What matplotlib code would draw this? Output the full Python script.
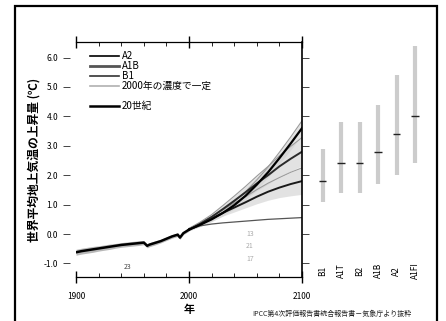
import numpy as np
import matplotlib
matplotlib.use("Agg")
import matplotlib.pyplot as plt
from matplotlib.lines import Line2D
from matplotlib.patches import Rectangle
from matplotlib.ticker import MultipleLocator

plt.rcParams['font.family'] = ['Noto Sans CJK JP', 'DejaVu Sans']

years_20c = [1900, 1905, 1910, 1915, 1920, 1925, 1930, 1935, 1940, 1945, 1950,
             1955, 1960, 1963, 1965, 1970, 1975, 1980, 1985, 1990, 1992, 1995, 2000]
temp_20c = [-0.62, -0.58, -0.55, -0.52, -0.49, -0.46, -0.43, -0.40, -0.37, -0.35, -0.33,
            -0.31, -0.29, -0.40, -0.36, -0.30, -0.24, -0.16, -0.08, -0.02, -0.12, 0.03, 0.15]
spread_20c = [0.10, 0.10, 0.10, 0.10, 0.09, 0.09, 0.09, 0.08, 0.08, 0.08, 0.08,
              0.08, 0.07, 0.07, 0.07, 0.07, 0.06, 0.06, 0.06, 0.06, 0.06, 0.05, 0.05]

# 21st century scenarios
years_21c = [2000, 2010, 2020, 2030, 2040, 2050, 2060, 2070, 2080, 2090, 2100]
a2 = [0.15, 0.32, 0.50, 0.72, 0.98, 1.30, 1.68, 2.10, 2.58, 3.08, 3.60]
a1b = [0.15, 0.35, 0.58, 0.85, 1.13, 1.42, 1.72, 2.00, 2.30, 2.56, 2.80]
b1 = [0.15, 0.32, 0.52, 0.72, 0.90, 1.08, 1.27, 1.44, 1.58, 1.70, 1.80]
commit = [0.15, 0.28, 0.34, 0.38, 0.41, 0.44, 0.47, 0.50, 0.52, 0.54, 0.56]
a2_spread = [0.04, 0.06, 0.08, 0.10, 0.12, 0.14, 0.16, 0.18, 0.20, 0.22, 0.25]
a1b_spread = [0.04, 0.06, 0.08, 0.12, 0.16, 0.20, 0.25, 0.30, 0.36, 0.42, 0.48]
b1_spread = [0.04, 0.06, 0.08, 0.11, 0.15, 0.19, 0.24, 0.29, 0.34, 0.40, 0.45]

# likely ranges at 2100 (right panel)
scen_names = ["B1", "A1T", "B2", "A1B", "A2", "A1FI"]
best_est = [1.8, 2.4, 2.4, 2.8, 3.4, 4.0]
range_lo = [1.1, 1.4, 1.4, 1.7, 2.0, 2.4]
range_hi = [2.9, 3.8, 3.8, 4.4, 5.4, 6.4]

legend_labels = ["A2", "A1B", "B1", "2000年の濃度で一定", "20世紀"]
model_counts = ["13", "21", "17"]

W, H = 446, 321
fig = plt.figure(figsize=(W / 100, H / 100), dpi=100)

# outer frame
fig.patches.append(Rectangle((15 / W, -0.05), 422 / W, 1.05 - 6 / H,
                             transform=fig.transFigure, fill=False,
                             edgecolor='black', linewidth=1.6))

ylim = (-1.46, 6.53)
ax = fig.add_axes([76 / W, (H - 277) / H, 226 / W, 235 / H])

# shaded ranges
ax.fill_between(years_20c, np.array(temp_20c) - spread_20c, np.array(temp_20c) + spread_20c,
                color='#b8b8b8', linewidth=0)
for vals, sp in [(a2, a2_spread), (a1b, a1b_spread), (b1, b1_spread)]:
    v = np.array(vals)
    s = np.array(sp)
    ax.fill_between(years_21c, v - s, v + s, color='#d0d0d0', alpha=0.6, linewidth=0)
    ax.plot(years_21c, v + s, color='#9a9a9a', linewidth=0.8)

ax.plot(years_21c, commit, color='#555555', linewidth=0.9)
ax.plot(years_21c, b1, color='#1a1a1a', linewidth=1.4)
ax.plot(years_21c, a1b, color='#2a2a2a', linewidth=1.4)
ax.plot(years_21c, a2, color='black', linewidth=1.6)
ax.plot(years_20c, temp_20c, color='black', linewidth=1.8)

ax.set_xlim(1900, 2100)
ax.set_ylim(*ylim)
ax.set_xticks([1900, 2000, 2100])
ax.xaxis.set_minor_locator(MultipleLocator(20))
ax.set_yticks(np.arange(-1, 7, 1))
ax.set_yticklabels([f"{v:.1f}" for v in np.arange(-1, 7, 1)])

ax.spines['left'].set_visible(False)
ax.spines['left'].set_position(('outward', 4))
for s in ['top', 'bottom', 'right']:
    ax.spines[s].set_linewidth(0.9)
ax.spines['right'].set_linewidth(1.2)

ax.tick_params(axis='x', which='major', direction='inout', length=9, width=1.0,
               top=True, bottom=True, labelsize=6, pad=6)
ax.tick_params(axis='x', which='minor', direction='in', length=3, width=0.6,
               top=True, bottom=True)
ax.tick_params(axis='y', which='major', direction='out', length=5, width=0.7,
               left=True, right=True, labelright=False, labelsize=6, pad=4,
               color='#444444')

ax.set_xlabel("年", fontsize=8, labelpad=2, fontweight='bold')
ax.set_ylabel("世界平均地上気温の上昇量 (℃)", fontsize=8.5, labelpad=2,
              fontweight='bold')

# model counts
ax.text(1946, -1.12, "23", fontsize=5, color='#444444', ha='center', va='center')
for i, lab in enumerate(model_counts):
    ax.text(2054, 0.0 - 0.42 * i, lab, fontsize=5, color='#aaaaaa',
            ha='center', va='center')

# legend
handles = [Line2D([], [], color='black', linewidth=1.2),
           Line2D([], [], color='#555555', linewidth=2.0),
           Line2D([], [], color='#333333', linewidth=1.2),
           Line2D([], [], color='#b0b0b0', linewidth=1.2),
           Line2D([], [], color='none'),
           Line2D([], [], color='black', linewidth=1.8)]
labels = legend_labels[:4] + [" "] + legend_labels[4:]
ax.legend(handles, labels, loc='upper left', bbox_to_anchor=(0.03, 0.99),
          frameon=False, fontsize=7, handlelength=3.0, handletextpad=0.35,
          labelspacing=0.0, borderpad=0.2)

# right panel: likely ranges
ax2 = fig.add_axes([304 / W, (H - 277) / H, 129.6 / W, 235 / H])
x = np.arange(len(scen_names))
ax2.vlines(x, range_lo, range_hi, color='#cccccc', linewidth=3.0)
ax2.hlines(best_est, x - 0.2, x + 0.2, color='#222222', linewidth=1.0)
for xi, name in zip(x, scen_names):
    ax2.text(xi, -1.25, name, rotation=90, ha='center', va='center', fontsize=6)
ax2.set_xlim(-1, 6)
ax2.set_ylim(*ylim)
ax2.axis('off')

fig.text(252 / W, (H - 314) / H, "IPCC第4次評価報告書統合報告書－気象庁より抜粋",
         fontsize=5, ha='left', va='center', color='#222222')

fig.savefig("out.png", dpi=100)
